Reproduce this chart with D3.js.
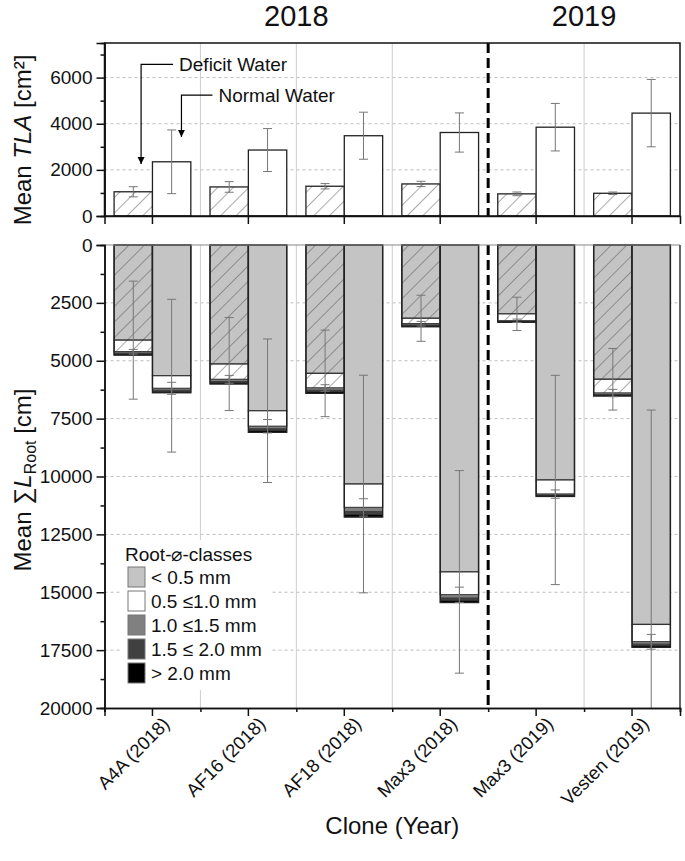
<!DOCTYPE html>
<html><head><meta charset="utf-8">
<script src="https://cdn.jsdelivr.net/npm/d3@7"></script>
<style>body{margin:0;background:#fff}svg{display:block;font-family:"Liberation Sans",Arial,sans-serif}</style>
</head><body><svg id="c" width="685" height="861"></svg>
<script>
// ---------- data ----------
const categories = ["A4A (2018)","AF16 (2018)","AF18 (2018)","Max3 (2018)","Max3 (2019)","Vesten (2019)"];
const waters = ["Deficit","Normal"];
// Top panel: mean total leaf area (cm²)
const tlaDeficit = [1050,1260,1290,1390,960,985];
const tlaDeficitErr = [220,230,115,115,80,55];
const tlaNormal = [2350,2860,3480,3620,3850,4460];
const tlaNormalErr = [1380,930,1020,850,1030,1460];
// Bottom panel: root length per diameter class (cm)
const rootClasses = ["< 0.5 mm","0.5 \u22641.0 mm","1.0 \u22641.5 mm","1.5 \u2264 2.0 mm","> 2.0 mm"];
const rootLt05Deficit = [4110,5142,5545,3165,2975,5800];
const rootLt05Normal  = [5646,7160,10325,14120,10150,16390];
const root05to10Deficit = [500,660,630,235,300,595];
const root05to10Normal  = [545,670,1010,990,610,750];
const root10to15Deficit = [60,85,95,55,25,55];
const root10to15Normal  = [80,110,180,140,45,100];
const root15to20Deficit = [45,60,70,40,20,40];
const root15to20Normal  = [60,80,130,105,30,75];
const rootGt20Deficit = [40,55,65,35,15,32];
const rootGt20Normal  = [50,70,105,89,25,60];
const errLt05Deficit = [2550,2010,1870,995,720,1330];
const errLt05Normal  = [3300,3100,4700,4375,4520,9260];
const err05to10Deficit = [100,170,140,100,75,160];
const err05to10Normal  = [260,290,375,330,180,320];
const yearLabels = ["2018","2019"];
const topTicks = [0,2000,4000,6000];
const bottomTicks = [0,2500,5000,7500,10000,12500,15000,17500,20000];

// ---------- layout ----------
const svg = d3.select("#c");
const L = 104.5, R = 680;
const topY0 = 216, topY1 = 43, botY0 = 245, botY1 = 708;
const x = d3.scaleBand().domain(categories).range([L, R]).paddingInner(0).paddingOuter(0);
const x1 = d3.scaleBand().domain(waters).range([0, x.bandwidth()]).paddingInner(0).paddingOuter(0.25);
const yT = d3.scaleLinear().domain([0, 7500]).range([topY0, topY1]);
const yB = d3.scaleLinear().domain([0, 20000]).range([botY0, botY1]);
const fillSeg = ["#c4c4c4","#ffffff","#808080","#404040","#000000"];

const defs = svg.append("defs");
function hatch(id, bg){
  const p = defs.append("pattern").attr("id", id).attr("patternUnits","userSpaceOnUse")
    .attr("width", 11).attr("height", 11).attr("patternTransform","rotate(45)");
  p.append("rect").attr("width",11).attr("height",11).attr("fill",bg);
  p.append("line").attr("x1",0).attr("y1",0).attr("x2",0).attr("y2",11).attr("stroke","#555").attr("stroke-width",1);
}
hatch("hW","#ffffff"); hatch("hG","#c4c4c4");

const bounds = categories.slice(1).map(c => x(c));
const splitX = x(categories[4]);

function panelBackground(y0, y1, gridVals, yScale){
  const g = svg.append("g");
  g.selectAll(".hg").data(gridVals).join("line")
    .attr("x1", L).attr("x2", R).attr("y1", d => yScale(d)).attr("y2", d => yScale(d))
    .attr("stroke","#bdbdbd").attr("stroke-width",1).attr("stroke-dasharray","3,3");
  g.selectAll(".vg").data(bounds.filter(b => b !== splitX)).join("line")
    .attr("x1", d => d).attr("x2", d => d).attr("y1", Math.min(y0,y1)).attr("y2", Math.max(y0,y1))
    .attr("stroke","#cccccc").attr("stroke-width",1);
  return g;
}

// ---------- top panel ----------
panelBackground(topY0, topY1, [2000,4000,6000], yT);
const gT = svg.append("g");
categories.forEach((c,i) => {
  const vals = [{w:"Deficit", v:tlaDeficit[i], e:tlaDeficitErr[i]}, {w:"Normal", v:tlaNormal[i], e:tlaNormalErr[i]}];
  vals.forEach(d => {
    const bx = x(c) + x1(d.w);
    gT.append("rect").attr("x", bx).attr("y", yT(d.v)).attr("width", x1.bandwidth()).attr("height", yT(0)-yT(d.v))
      .attr("fill", d.w==="Deficit" ? "url(#hW)" : "#fff").attr("stroke","#222").attr("stroke-width",1.3);
    const cx = bx + x1.bandwidth()/2;
    const eg = gT.append("g").attr("stroke","#777").attr("stroke-width",1);
    eg.append("line").attr("x1",cx).attr("x2",cx).attr("y1",yT(d.v-d.e)).attr("y2",yT(d.v+d.e));
    [d.v-d.e, d.v+d.e].forEach(v => eg.append("line").attr("x1",cx-4.5).attr("x2",cx+4.5).attr("y1",yT(v)).attr("y2",yT(v)));
  });
});
svg.append("line").attr("x1",splitX).attr("x2",splitX).attr("y1",topY1).attr("y2",topY0)
  .attr("stroke","#000").attr("stroke-width",3).attr("stroke-dasharray","10,5");
svg.append("rect").attr("x",L).attr("y",topY1).attr("width",R-L).attr("height",topY0-topY1)
  .attr("fill","none").attr("stroke","#111").attr("stroke-width",1.5);
svg.append("g").attr("transform",`translate(${L},0)`)
  .call(d3.axisLeft(yT).tickValues(topTicks).tickSize(8).tickPadding(4).tickFormat(d3.format("d")));
svg.append("g").attr("transform",`translate(${L},0)`)
  .call(d3.axisLeft(yT).tickValues([1000,3000,5000,7000]).tickSize(4).tickFormat(""));
svg.append("g").attr("transform",`translate(0,${topY0})`)
  .call(d3.axisBottom(x).tickSize(8).tickFormat(""));

yearLabels.forEach((yl,i) => {
  svg.append("text").attr("x", i===0 ? x(categories[2]) : x(categories[5])).attr("y", 26)
    .attr("text-anchor","middle").attr("font-size",29).attr("fill","#111").text(yl);
});

// annotations
const arrowDefs = defs.append("marker").attr("id","arr").attr("viewBox","0 0 10 10").attr("refX",10).attr("refY",5)
  .attr("markerWidth",7).attr("markerHeight",9).attr("orient","auto-start-reverse").attr("markerUnits","userSpaceOnUse");
arrowDefs.append("path").attr("d","M0,0 L10,5 L0,10 Z").attr("fill","#000");
function annot(label, ax, yv, yEnd, lineEnd){
  const y = yT(yv);
  svg.append("path").attr("d",`M${lineEnd},${y} L${ax},${y} L${ax},${yT(yEnd)}`)
    .attr("fill","none").attr("stroke","#000").attr("stroke-width",1.2).attr("marker-end","url(#arr)");
  svg.append("text").attr("x", lineEnd+6).attr("y", y).attr("dy","0.35em").attr("font-size",19).attr("fill","#111").text(label);
}
annot("Deficit Water", x(categories[0]) + x1("Deficit") + 27, 6570, 2250, x(categories[0]) + x1("Deficit") + 59);
annot("Normal Water", x(categories[0]) + x1("Normal") + 29, 5240, 3430, x(categories[0]) + x1("Normal") + 60);

// ---------- bottom panel ----------
panelBackground(botY0, botY1, [2500,5000,7500,10000,12500,15000,17500], yB);
svg.append("line").attr("x1",splitX).attr("x2",splitX).attr("y1",botY0).attr("y2",botY1)
  .attr("stroke","#000").attr("stroke-width",3).attr("stroke-dasharray","10,5");
const gB = svg.append("g");
const segD = [rootLt05Deficit, root05to10Deficit, root10to15Deficit, root15to20Deficit, rootGt20Deficit];
const segN = [rootLt05Normal, root05to10Normal, root10to15Normal, root15to20Normal, rootGt20Normal];
const errD = [errLt05Deficit, err05to10Deficit];
const errN = [errLt05Normal, err05to10Normal];
const errLayer = svg.append("g");
categories.forEach((c,i) => {
  waters.forEach(w => {
    const segs = (w==="Deficit" ? segD : segN).map(a => a[i]);
    const errs = (w==="Deficit" ? errD : errN).map(a => a[i]);
    const bx = x(c) + x1(w), bw = x1.bandwidth();
    let cum = 0;
    const cums = [];
    segs.forEach((v,k) => {
      const y0 = cum, y1 = cum + v; cum = y1; cums.push(y1);
      let fill = fillSeg[k];
      if (w==="Deficit" && k===0) fill = "url(#hG)";
      if (w==="Deficit" && k===1) fill = "url(#hW)";
      gB.append("rect").attr("x",bx).attr("y",yB(y0)).attr("width",bw).attr("height",yB(y1)-yB(y0))
        .attr("fill",fill).attr("stroke","#333").attr("stroke-width",k>=2?0.6:1.2);
    });
    gB.append("rect").attr("x",bx).attr("y",yB(0)).attr("width",bw).attr("height",yB(cum)-yB(0))
      .attr("fill","none").attr("stroke","#222").attr("stroke-width",1.4);
    const cx = bx + bw/2;
    errs.forEach((e,k) => {
      const v = cums[k];
      const lo = Math.max(0, v-e), hi = Math.min(20000, v+e);
      errLayer.append("line").attr("x1",cx).attr("x2",cx).attr("y1",yB(lo)).attr("y2",yB(hi)).attr("stroke","#777").attr("stroke-width",1);
      [v-e, v+e].filter(t => t>=0 && t<=20000).forEach(t =>
        errLayer.append("line").attr("x1",cx-4.5).attr("x2",cx+4.5).attr("y1",yB(t)).attr("y2",yB(t)).attr("stroke","#777").attr("stroke-width",1));
    });
  });
});
svg.append("line").attr("x1",L).attr("x2",R).attr("y1",botY0).attr("y2",botY0).attr("stroke","#888").attr("stroke-width",1.2);
svg.append("line").attr("x1",R).attr("x2",R).attr("y1",botY0).attr("y2",botY1).attr("stroke","#333").attr("stroke-width",1.5);
svg.append("g").attr("transform",`translate(${L},0)`)
  .call(d3.axisLeft(yB).tickValues(bottomTicks).tickSize(8).tickPadding(4).tickFormat(d3.format("d")));
svg.append("g").attr("transform",`translate(${L},0)`)
  .call(d3.axisLeft(yB).tickValues(bottomTicks.slice(0,-1).map(t=>t+1250)).tickSize(4).tickFormat(""));
svg.append("g").attr("transform",`translate(0,${botY1})`)
  .call(d3.axisBottom(x).tickSize(8).tickFormat(""));
svg.append("g").attr("transform",`translate(0,${botY1})`)
  .call(d3.axisBottom(d3.scaleLinear().domain([0,6]).range([L,R])).tickValues([0,1,2,3,4,5,6]).tickSize(4).tickFormat(""));

svg.selectAll(".tick text").attr("font-size",19).attr("fill","#111").attr("font-family","Liberation Sans, Arial, sans-serif");
svg.selectAll(".domain, .tick line").attr("stroke","#111").attr("stroke-width",1.5);

// x labels
svg.append("g").selectAll("text").data(categories).join("text")
  .attr("transform", d => `translate(${x(d)+x.bandwidth()/2+9},${botY1+8}) rotate(-45)`)
  .attr("text-anchor","end").attr("dy","0.7em").attr("font-size",18.5).attr("fill","#111").text(d => d);

// axis titles
const t1 = svg.append("text").attr("transform","translate(31,140) rotate(-90)").attr("text-anchor","middle")
  .attr("font-size",24).attr("fill","#111");
t1.append("tspan").text("Mean ");
t1.append("tspan").attr("font-style","italic").text("TLA");
t1.append("tspan").text(" [cm\u00B2]");
const t2 = svg.append("text").attr("transform","translate(31,480) rotate(-90)").attr("text-anchor","middle")
  .attr("font-size",24).attr("fill","#111");
t2.append("tspan").text("Mean \u2211");
t2.append("tspan").attr("font-style","italic").text("L");
t2.append("tspan").attr("font-size",16).attr("dy",5).text("Root");
t2.append("tspan").attr("dy",-5).text(" [cm]");
svg.append("text").attr("x",(L+R)/2).attr("y",834).attr("text-anchor","middle").attr("font-size",24).attr("fill","#111").text("Clone (Year)");

// legend
const lg = svg.append("g").attr("transform","translate(122,540)");
lg.append("rect").attr("x",0).attr("y",0).attr("width",150).attr("height",150).attr("fill","#fff");
lg.append("text").attr("x",3).attr("y",21).attr("font-size",19).attr("fill","#111").text("Root-\u2300-classes");
rootClasses.forEach((c,k) => {
  lg.append("rect").attr("x",6).attr("y",27+k*24).attr("width",17).attr("height",20)
    .attr("fill",fillSeg[k]).attr("stroke","#777").attr("stroke-width",1);
  lg.append("text").attr("x",29).attr("y",37+k*24).attr("dy","0.35em").attr("font-size",19).attr("fill","#111").text(c);
});
</script></body></html>
